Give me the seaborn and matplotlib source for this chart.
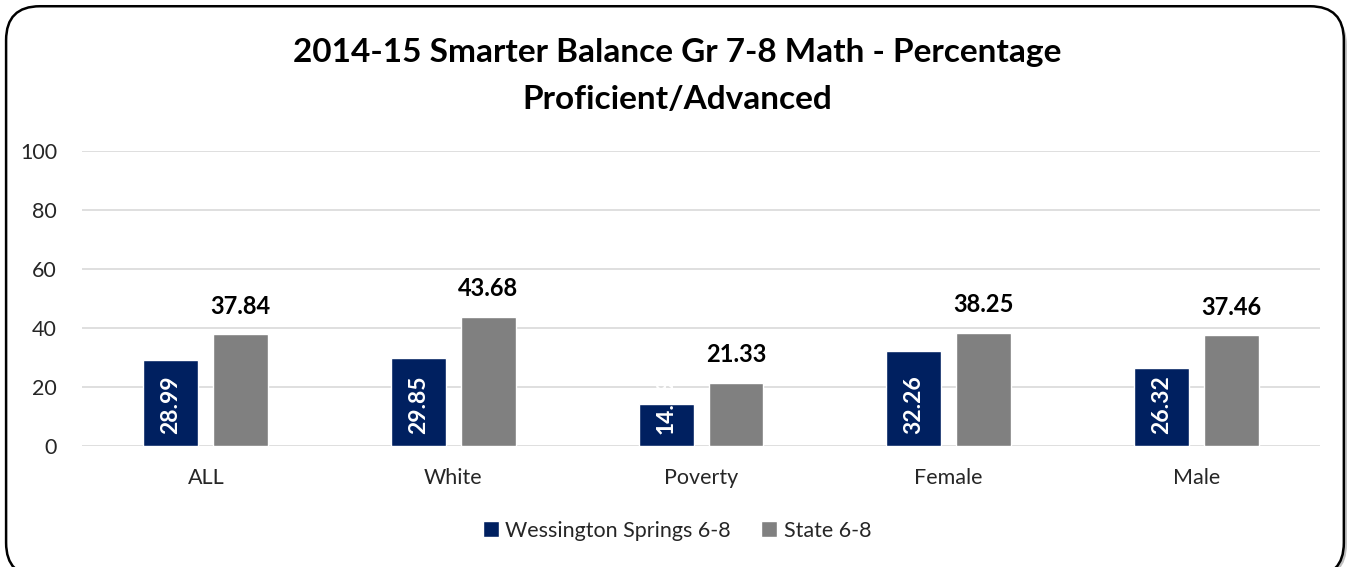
import pandas as pd
import seaborn as sns
import matplotlib.pyplot as plt
from matplotlib.patches import FancyBboxPatch

groups = ["ALL", "White", "Poverty", "Female", "Male"]
school = [28.99, 29.85, 14.29, 32.26, 26.32]
state = [37.84, 43.68, 21.33, 38.25, 37.46]
series = ["Wessington Springs 6-8", "State 6-8"]
colors = ["#002060", "#808080"]

df = pd.DataFrame({
    "group": groups * 2,
    "series": [series[0]] * len(groups) + [series[1]] * len(groups),
    "value": school + state,
})

sns.set_style("white")
plt.rcParams["font.family"] = ["Lato", "DejaVu Sans"]

fig = plt.figure(figsize=(13.54, 5.67), dpi=100)

# rounded frame with shadow
shadow = FancyBboxPatch((0.0068, -0.02), 0.988, 1.0, boxstyle="round,pad=0,rounding_size=0.025",
                        transform=fig.transFigure, facecolor="#bfbfbf", edgecolor="none",
                        mutation_aspect=13.54 / 5.67, zorder=0)
frame = FancyBboxPatch((0.0045, -0.017), 0.988, 1.006, boxstyle="round,pad=0,rounding_size=0.025",
                       transform=fig.transFigure, facecolor="white", edgecolor="black",
                       linewidth=1.8, mutation_aspect=13.54 / 5.67, zorder=0)
fig.patches.extend([shadow, frame])

ax = fig.add_axes([0.0606, 0.2134, 0.9144, 0.5203], zorder=2)
ax.patch.set_alpha(0)

sns.barplot(data=df, x="group", y="value", hue="series", palette=colors,
            width=0.564, gap=0.213, saturation=1, ax=ax, legend=True, zorder=3)

ax.set_ylim(0, 100)
ax.set_yticks(range(0, 101, 20))
ax.yaxis.grid(True, color="#d9d9d9", linewidth=1.2, zorder=0)
ax.set_axisbelow(True)
for s in ax.spines.values():
    s.set_visible(False)
ax.tick_params(axis="both", length=0, labelsize=15.5, colors="#262626")
ax.tick_params(axis="x", pad=16)
ax.tick_params(axis="y", pad=18)
ax.set_xlabel("")
ax.set_ylabel("")

# value labels
school_bars = ax.containers[0]
state_bars = ax.containers[1]
for bar, v in zip(school_bars, school):
    ax.annotate(f"{v:.2f}", (bar.get_x() + bar.get_width() / 2, 0), xytext=(0, 9),
                textcoords="offset points", ha="center", va="bottom", rotation=90,
                color="white", fontsize=16.5, fontweight="bold", zorder=5)
for bar, v in zip(state_bars, state):
    ax.annotate(f"{v:.2f}", (bar.get_x() + bar.get_width() / 2, v), xytext=(0, 12),
                textcoords="offset points", ha="center", va="bottom",
                color="black", fontsize=17, fontweight="bold", zorder=5)

handles, labels = ax.get_legend_handles_labels()
ax.get_legend().remove()
fig.legend(handles, labels, loc="center", bbox_to_anchor=(0.5, 0.064), ncol=2, frameon=False,
           fontsize=15.5, labelcolor="#262626", handlelength=0.75, handleheight=0.75,
           handletextpad=0.3, columnspacing=1.4)

fig.text(0.5, 0.866, "2014-15 Smarter Balance Gr 7-8 Math - Percentage\nProficient/Advanced",
         ha="center", va="center", fontsize=24, fontweight="bold", color="black", linespacing=1.75)

fig.savefig("out.png", dpi=100)
